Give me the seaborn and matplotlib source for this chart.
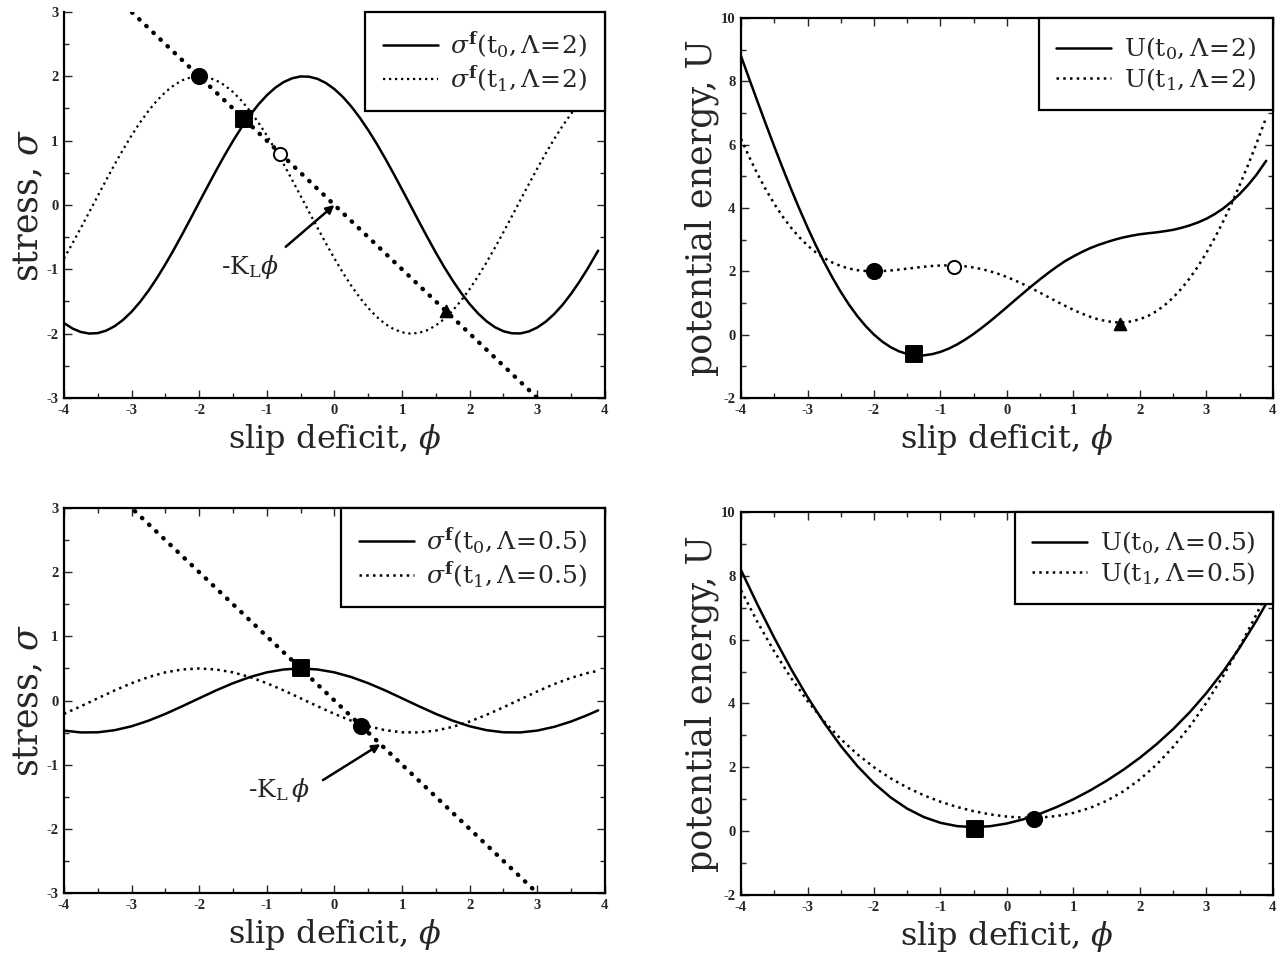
import matplotlib
matplotlib.use('Agg')
import matplotlib.pyplot as plt
import seaborn as sns
from matplotlib.ticker import MultipleLocator

# slip deficit samples
phi_fine = [-4.0, -3.875, -3.75, -3.625, -3.5, -3.375, -3.25, -3.125, -3.0, -2.875,
            -2.75, -2.625, -2.5, -2.375, -2.25, -2.125, -2.0, -1.875, -1.75, -1.625,
            -1.5, -1.375, -1.25, -1.125, -1.0, -0.875, -0.75, -0.625, -0.5, -0.375,
            -0.25, -0.125, 0.0, 0.125, 0.25, 0.375, 0.5, 0.625, 0.75, 0.875, 1.0,
            1.125, 1.25, 1.375, 1.5, 1.625, 1.75, 1.875, 2.0, 2.125, 2.25, 2.375, 2.5,
            2.625, 2.75, 2.875, 3.0, 3.125, 3.25, 3.375, 3.5, 3.625, 3.75, 3.9]
phi = [-4.0, -3.75, -3.5, -3.25, -3.0, -2.75, -2.5, -2.25, -2.0, -1.75, -1.5, -1.25,
       -1.0, -0.75, -0.5, -0.25, 0.0, 0.25, 0.5, 0.75, 1.0, 1.25, 1.5, 1.75, 2.0,
       2.25, 2.5, 2.75, 3.0, 3.25, 3.5, 3.75, 3.9]

# Lambda = 2 (on phi_fine)
sigma_t0_L2 = [-1.836, -1.920, -1.975, -1.999, -1.992, -1.953, -1.884, -1.786, -1.660,
               -1.508, -1.333, -1.136, -0.922, -0.694, -0.454, -0.208, 0.042, 0.290,
               0.535, 0.771, 0.995, 1.204, 1.393, 1.561, 1.705, 1.822, 1.911, 1.969,
               1.998, 1.994, 1.960, 1.895, 1.801, 1.679, 1.530, 1.357, 1.163, 0.952,
               0.725, 0.487, 0.241, -0.008, -0.258, -0.503, -0.742, -0.968, -1.177,
               -1.369, -1.540, -1.687, -1.808, -1.901, -1.963, -1.995, -1.997, -1.966,
               -1.905, -1.815, -1.696, -1.551, -1.381, -1.190, -0.981, -0.710]
sigma_t1_L2 = [-0.832, -0.599, -0.356, -0.109, 0.141, 0.389, 0.631, 0.862, 1.081, 1.282,
               1.463, 1.622, 1.755, 1.861, 1.938, 1.984, 2.0, 1.984, 1.938, 1.861, 1.755,
               1.622, 1.463, 1.282, 1.081, 0.862, 0.631, 0.389, 0.141, -0.109, -0.356,
               -0.599, -0.832, -1.053, -1.256, -1.441, -1.602, -1.739, -1.849, -1.929,
               -1.980, -2.000, -1.988, -1.946, -1.873, -1.771, -1.641, -1.486, -1.307,
               -1.108, -0.892, -0.662, -0.422, -0.175, 0.075, 0.324, 0.567, 0.802,
               1.024, 1.231, 1.417, 1.582, 1.722, 1.855]
U_t0_L2 = [8.793, 8.066, 7.346, 6.637, 5.942, 5.265, 4.611, 3.983, 3.385, 2.819, 2.290,
           1.799, 1.350, 0.944, 0.583, 0.269, 0.000, -0.221, -0.396, -0.526, -0.610,
           -0.652, -0.654, -0.617, -0.545, -0.442, -0.310, -0.153, 0.025, 0.220, 0.428,
           0.647, 0.870, 1.096, 1.319, 1.539, 1.752, 1.954, 2.145, 2.323, 2.470, 2.608,
           2.730, 2.833, 2.920, 3.001, 3.070, 3.124, 3.170, 3.202, 3.230, 3.267, 3.310,
           3.373, 3.450, 3.544, 3.660, 3.806, 3.980, 4.192, 4.440, 4.719, 5.040, 5.490]
U_t1_L2 = [6.181, 5.600, 5.063, 4.573, 4.130, 3.733, 3.383, 3.078, 2.817, 2.598, 2.418,
           2.275, 2.166, 2.087, 2.036, 2.009, 2.0, 2.007, 2.026, 2.053, 2.084, 2.115,
           2.144, 2.168, 2.183, 2.188, 2.179, 2.157, 2.120, 2.067, 1.999, 1.916, 1.819,
           1.709, 1.587, 1.457, 1.322, 1.183, 1.044, 0.910, 0.782, 0.666, 0.565, 0.482,
           0.423, 0.390, 0.388, 0.419, 0.486, 0.593, 0.741, 0.933, 1.170, 1.453, 1.782,
           2.159, 2.582, 3.051, 3.563, 4.118, 4.714, 5.347, 6.014, 6.857]

# Lambda = 0.5 (on phi)
sigma_t0_L05 = [-0.468, -0.497, -0.495, -0.462, -0.401, -0.314, -0.208, -0.089, 0.035,
                0.158, 0.270, 0.366, 0.439, 0.484, 0.5, 0.484, 0.439, 0.366, 0.270,
                0.158, 0.035, -0.089, -0.208, -0.314, -0.401, -0.462, -0.495, -0.497,
                -0.468, -0.410, -0.327, -0.223, -0.153]
sigma_t1_L05 = [-0.208, -0.089, 0.035, 0.158, 0.270, 0.366, 0.439, 0.484, 0.5, 0.484,
                0.439, 0.366, 0.270, 0.158, 0.035, -0.089, -0.208, -0.314, -0.401,
                -0.462, -0.495, -0.497, -0.468, -0.410, -0.327, -0.223, -0.105, 0.019,
                0.142, 0.256, 0.354, 0.431, 0.464]
U_t0_L05 = [8.175, 7.085, 6.054, 5.090, 4.201, 3.392, 2.670, 2.039, 1.501, 1.056, 0.704,
            0.440, 0.260, 0.157, 0.125, 0.155, 0.240, 0.372, 0.546, 0.756, 0.999, 1.273,
            1.580, 1.920, 2.299, 2.722, 3.196, 3.727, 4.325, 4.995, 5.747, 6.583, 7.129]
U_t1_L05 = [7.545, 6.539, 5.626, 4.806, 4.079, 3.440, 2.885, 2.407, 2.0, 1.655, 1.365,
            1.122, 0.921, 0.756, 0.624, 0.523, 0.455, 0.420, 0.424, 0.472, 0.571, 0.727,
            0.950, 1.245, 1.622, 2.083, 2.636, 3.281, 4.021, 4.852, 5.772, 6.777, 7.418]

# -K_L phi line
kl_phi = [-4.0, 4.0]
kl_sigma = [4.0, -4.0]

# equilibrium points (phi, value)
tl_filled_circle = (-2.0, 2.0)
tl_square = (-1.33, 1.33)
tl_open_circle = (-0.8, 0.8)
tl_triangle = (1.65, -1.65)
tr_filled_circle = (-2.0, 2.0)
tr_square = (-1.4, -0.62)
tr_open_circle = (-0.8, 2.15)
tr_triangle = (1.7, 0.33)
bl_square = (-0.5, 0.5)
bl_filled_circle = (0.4, -0.4)
br_square = (-0.48, 0.08)
br_filled_circle = (0.4, 0.38)

x_ticks = [-4, -3, -2, -1, 0, 1, 2, 3, 4]
x_ticklabels = ['-4', '-3', '-2', '-1', '0', '1', '2', '3', '4']
stress_ticks = [-3, -2, -1, 0, 1, 2, 3]
stress_ticklabels = ['-3', '-2', '-1', '0', '1', '2', '3']
energy_ticks = [-2, 0, 2, 4, 6, 8, 10]
energy_ticklabels = ['-2', '0', '2', '4', '6', '8', '10']

sns.set_style('ticks')
plt.rcParams['font.family'] = ['DejaVu Serif']
plt.rcParams['mathtext.fontset'] = 'dejavuserif'
plt.rcParams['xtick.direction'] = 'in'
plt.rcParams['ytick.direction'] = 'in'

fig = plt.figure(figsize=(12.87, 9.58), dpi=100)
ax_tl = fig.add_axes([0.0497, 0.5846, 0.4203, 0.4029])
ax_tr = fig.add_axes([0.5758, 0.5846, 0.4132, 0.3966])
ax_bl = fig.add_axes([0.0497, 0.0678, 0.4203, 0.4019])
ax_br = fig.add_axes([0.5758, 0.0658, 0.4132, 0.3998])

dot_fine = (0, (1, 1.7))
dot_thick = (0, (0.1, 2.1))
tick_font = dict(fontweight='bold', fontfamily='Liberation Serif', fontsize=10.5)


def style_axes(ax, ylim, yticks, yticklabels, yminor, ylabel, show_top=True):
    ax.set_xlim(-4, 4)
    ax.set_ylim(*ylim)
    ax.set_xticks(x_ticks, x_ticklabels, **tick_font)
    ax.set_yticks(yticks, yticklabels, **tick_font)
    ax.xaxis.set_minor_locator(MultipleLocator(0.5))
    ax.yaxis.set_minor_locator(MultipleLocator(yminor))
    ax.tick_params(which='both', top=show_top, right=True, width=1.0, pad=4)
    ax.tick_params(which='major', length=6)
    ax.tick_params(which='minor', length=3.5)
    for side, sp in ax.spines.items():
        sp.set_linewidth(1.6)
        sp.set_color('black')
    ax.spines['top'].set_visible(show_top)
    ax.set_xlabel(r'slip deficit, $\phi$', fontsize=23, labelpad=4)
    ax.set_ylabel(ylabel, fontsize=25, labelpad=1)


def add_legend(ax):
    leg = ax.legend(loc='upper right', borderaxespad=0, fancybox=False, edgecolor='black',
                    framealpha=1, fontsize=18, handlelength=2.2, borderpad=0.7,
                    labelspacing=0.15, handletextpad=0.5)
    leg.get_frame().set_linewidth(1.6)


def mark(ax, pt, marker, size, filled=True):
    sns.scatterplot(x=[pt[0]], y=[pt[1]], ax=ax, marker=marker, s=size,
                    color='black' if filled else 'white', edgecolor='black',
                    linewidth=1.4, zorder=5)


# top-left: stress, Lambda = 2
sns.lineplot(x=kl_phi, y=kl_sigma, ax=ax_tl, color='black', lw=3.2,
             linestyle=dot_thick, dash_capstyle='round')
sns.lineplot(x=phi_fine, y=sigma_t0_L2, ax=ax_tl, color='black', lw=1.8,
             label=r'$\sigma^{\mathbf{f}}(\mathrm{t_0},\Lambda\!=\!2)$')
sns.lineplot(x=phi_fine, y=sigma_t1_L2, ax=ax_tl, color='black', lw=1.6, linestyle=dot_fine,
             label=r'$\sigma^{\mathbf{f}}(\mathrm{t_1},\Lambda\!=\!2)$')
mark(ax_tl, tl_filled_circle, 'o', 120)
mark(ax_tl, tl_square, 's', 140)
mark(ax_tl, tl_open_circle, 'o', 90, filled=False)
mark(ax_tl, tl_triangle, '^', 70)
ax_tl.annotate('', xy=(0.0, 0.0), xytext=(-0.72, -0.65),
               arrowprops=dict(arrowstyle='-|>', lw=1.8, color='black',
                               mutation_scale=12, shrinkA=0, shrinkB=0))
ax_tl.text(-1.24, -0.96, r'-K$_\mathrm{L}\phi$', fontsize=18, ha='center', va='center')
style_axes(ax_tl, (-3, 3), stress_ticks, stress_ticklabels, 0.5, r'stress, $\sigma$',
           show_top=False)
add_legend(ax_tl)

# top-right: potential energy, Lambda = 2
sns.lineplot(x=phi_fine, y=U_t0_L2, ax=ax_tr, color='black', lw=1.8,
             label=r'U$(\mathrm{t_0},\Lambda\!=\!2)$')
sns.lineplot(x=phi_fine, y=U_t1_L2, ax=ax_tr, color='black', lw=1.8, linestyle=dot_fine,
             label=r'U$(\mathrm{t_1},\Lambda\!=\!2)$')
mark(ax_tr, tr_filled_circle, 'o', 120)
mark(ax_tr, tr_square, 's', 140)
mark(ax_tr, tr_open_circle, 'o', 90, filled=False)
mark(ax_tr, tr_triangle, '^', 70)
style_axes(ax_tr, (-2, 10), energy_ticks, energy_ticklabels, 1, 'potential energy, U')
add_legend(ax_tr)

# bottom-left: stress, Lambda = 0.5
sns.lineplot(x=kl_phi, y=kl_sigma, ax=ax_bl, color='black', lw=3.2,
             linestyle=dot_thick, dash_capstyle='round')
sns.lineplot(x=phi, y=sigma_t0_L05, ax=ax_bl, color='black', lw=1.8,
             label=r'$\sigma^{\mathbf{f}}(\mathrm{t_0},\Lambda\!=\!0.5)$')
sns.lineplot(x=phi, y=sigma_t1_L05, ax=ax_bl, color='black', lw=1.8, linestyle=dot_fine,
             label=r'$\sigma^{\mathbf{f}}(\mathrm{t_1},\Lambda\!=\!0.5)$')
mark(ax_bl, bl_square, 's', 140)
mark(ax_bl, bl_filled_circle, 'o', 120)
ax_bl.annotate('', xy=(0.68, -0.68), xytext=(-0.17, -1.24),
               arrowprops=dict(arrowstyle='-|>', lw=1.8, color='black',
                               mutation_scale=12, shrinkA=0, shrinkB=0))
ax_bl.text(-0.82, -1.39, r'-K$_\mathrm{L}\,\phi$', fontsize=18, ha='center', va='center')
style_axes(ax_bl, (-3, 3), stress_ticks, stress_ticklabels, 0.5, r'stress, $\sigma$')
add_legend(ax_bl)

# bottom-right: potential energy, Lambda = 0.5
sns.lineplot(x=phi, y=U_t0_L05, ax=ax_br, color='black', lw=1.8,
             label=r'U$(\mathrm{t_0},\Lambda\!=\!0.5)$')
sns.lineplot(x=phi, y=U_t1_L05, ax=ax_br, color='black', lw=1.8, linestyle=dot_fine,
             label=r'U$(\mathrm{t_1},\Lambda\!=\!0.5)$')
mark(ax_br, br_square, 's', 140)
mark(ax_br, br_filled_circle, 'o', 120)
style_axes(ax_br, (-2, 10), energy_ticks, energy_ticklabels, 1, 'potential energy, U')
add_legend(ax_br)

fig.savefig('out.png', dpi=100)
